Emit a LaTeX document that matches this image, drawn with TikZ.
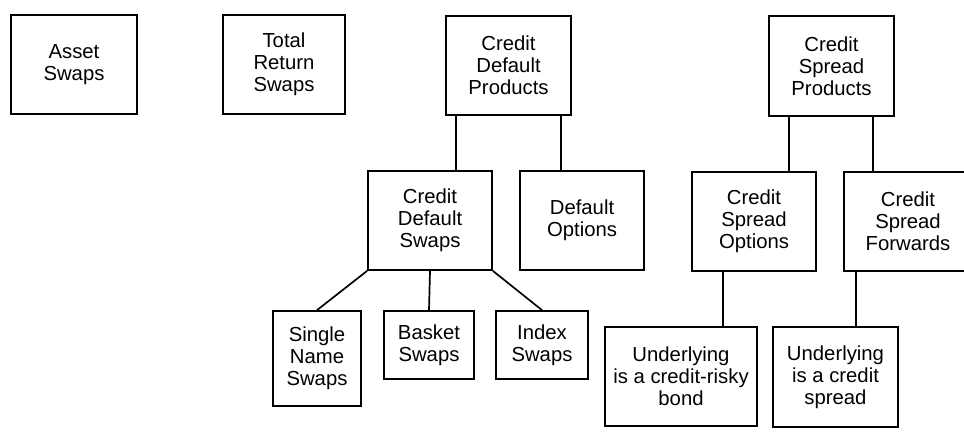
\documentclass[tikz,border=0pt]{standalone}
\usepackage{fontspec}
\setmainfont{Liberation Sans}
\begin{document}
\begin{tikzpicture}[x=1pt,y=-1pt,
  box/.style={draw, line width=1.7pt, rectangle, inner sep=0pt, align=center,
    font=\fontsize{20.3}{21.8}\selectfont},
  link/.style={line width=1.7pt}]
\clip (0,0) rectangle (964,435);
\fill[white] (0,0) rectangle (964,435);
% top row
\node[box, minimum width=126pt, minimum height=99pt] (asset) at (74,64.5) {Asset\\Swaps};
\node[box, minimum width=122pt, minimum height=99pt] (trs) at (284,64.5) {Total\\Return\\Swaps};
\node[box, minimum width=125pt, minimum height=99pt] (cdp) at (508.5,65.5) {Credit\\Default\\Products};
\node[box, minimum width=125pt, minimum height=100pt] (csp) at (831.5,66) {Credit\\Spread\\Products};
% middle row
\node[box, minimum width=124pt, minimum height=99pt] (cds) at (430,220.5) {Credit\\Default\\Swaps};
\node[box, minimum width=124pt, minimum height=99pt] (dop) at (582,220.5) {Default\\Options};
\node[box, minimum width=124pt, minimum height=99pt] (cso) at (754,221.5) {Credit\\Spread\\Options};
\node[box, minimum width=128pt, minimum height=99pt] (csf) at (908,221.5) {Credit\\Spread\\Forwards};
% bottom row
\node[box, minimum width=88pt, minimum height=95pt] (sns) at (317,358.5) {Single\\Name\\Swaps};
\node[box, minimum width=90pt, minimum height=68pt] (bas) at (429,345) {Basket\\Swaps};
\node[box, minimum width=92pt, minimum height=68pt] (idx) at (542,345) {Index\\Swaps};
\node[box, minimum width=152pt, minimum height=99pt] (ucr) at (681,376.5) {Underlying\\is a credit-risky\\bond};
\node[box, minimum width=125pt, minimum height=100pt] (ucs) at (835.5,377) {Underlying\\is a credit\\spread};
% connectors
\draw[link] ([xshift=11pt]cdp.south west) -- ([xshift=11pt]cdp.south west |- cds.north);
\draw[link] ([xshift=-11pt]cdp.south east) -- ([xshift=-11pt]cdp.south east |- dop.north);
\draw[link] ([xshift=21pt]csp.south west) -- ([xshift=21pt]csp.south west |- cso.north);
\draw[link] ([xshift=-22pt]csp.south east) -- ([xshift=-22pt]csp.south east |- csf.north);
\draw[link] (cds.south west) -- (sns.north);
\draw[link] (cds.south) -- (bas.north);
\draw[link] (cds.south east) -- (idx.north);
\draw[link] ([xshift=32pt]cso.south west) -- ([xshift=32pt]cso.south west |- ucr.north);
\draw[link] ([xshift=13pt]csf.south west) -- ([xshift=13pt]csf.south west |- ucs.north);
\end{tikzpicture}
\end{document}
